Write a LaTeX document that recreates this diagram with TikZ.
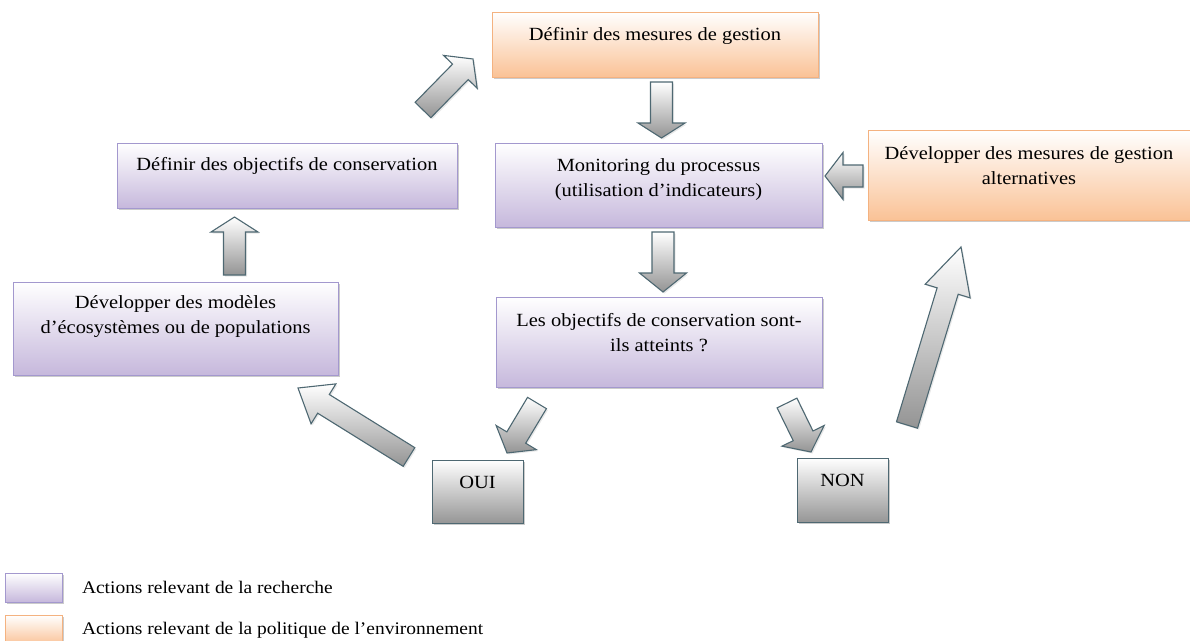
\documentclass[tikz,border=0pt]{standalone}
\usepackage{fontspec}
\setmainfont{Liberation Serif}[FakeStretch=1.1]
\usetikzlibrary{calc,shadows,shadings}

\definecolor{lila}{RGB}{198,184,220}
\definecolor{lilaline}{RGB}{163,152,206}
\definecolor{abricot}{RGB}{250,194,150}
\definecolor{abricotline}{RGB}{244,178,128}
\definecolor{gris}{RGB}{150,150,150}
\definecolor{grisline}{RGB}{78,104,114}

% block arrow: [head length]{tail}{tip}
\def\shaftw{11pt}
\def\headw{23.5pt}
\newcommand{\fatarrow}[3][16]{%
  \draw [blockarrow] let \p1=($(#3)-(#2)$), \n1={atan2(\y1,\x1)},
      \n2={veclen(\x1,\y1)-#1pt} in
    ($(#2)+(\n1+90:\shaftw)$) -- ($(#2)+(\n1:\n2)+(\n1+90:\shaftw)$)
    -- ($(#2)+(\n1:\n2)+(\n1+90:\headw)$) -- (#3)
    -- ($(#2)+(\n1:\n2)+(\n1-90:\headw)$) -- ($(#2)+(\n1:\n2)+(\n1-90:\shaftw)$)
    -- ($(#2)+(\n1-90:\shaftw)$) -- cycle;}

\begin{document}
\begin{tikzpicture}[x=1pt, y=-1pt, font=\fontsize{18.6}{25}\selectfont]
\tikzset{ inner sep=0pt, outer sep=0pt,
  box/.style={anchor=north, align=center, line width=1pt,
    drop shadow={shadow xshift=2pt, shadow yshift=-2pt, fill=black!45, opacity=.45}},
  recherche/.style={box, draw=lilaline, top color=white, bottom color=lila},
  politique/.style={box, draw=abricotline, top color=white, bottom color=abricot},
  reponse/.style={box, draw=grisline, top color=white, bottom color=gris},
  blockarrow/.style={draw=grisline, line width=1.1pt, top color=white, bottom color=black!42,
    drop shadow={shadow xshift=1.5pt, shadow yshift=-1.5pt, fill=black!30, opacity=.3}},
}

\useasboundingbox (0,0) rectangle (1190,640);

%\draw [lightgray, dashed](0,0) grid[step=50] (1190,640);

\node [politique, minimum width=326pt, text height=28pt, text depth=37pt] (Mes) at (655,12)
  {Définir des mesures de gestion};
\node [recherche, minimum width=327pt, text height=53pt, text depth=31pt] (Mon) at (658.5,143)
  {Monitoring du processus\\(utilisation d’indicateurs)};
\node [recherche, minimum width=340pt, text height=27pt, text depth=38pt] (Obj) at (287,143)
  {Définir des objectifs de conservation};
\node [recherche, minimum width=325pt, text height=51pt, text depth=42pt] (Mod) at (175.5,282)
  {Développer des modèles\\d’écosystèmes ou de populations};
\node [recherche, minimum width=326pt, text height=54pt, text depth=36pt] (Att) at (659,297)
  {Les objectifs de conservation sont-\\ils atteints~?};
\node [politique, minimum width=322pt, text height=54pt, text depth=36pt] (Alt) at (1029,130)
  {Développer des mesures de gestion\\alternatives};
\node [reponse, minimum width=91pt, text height=28pt, text depth=35pt] (Oui) at (477.5,460) {OUI};
\node [reponse, minimum width=91pt, text height=28pt, text depth=36pt] (Non) at (842.5,458) {NON};

% arrow ends
\coordinate (a1) at (423,110);   \coordinate (b1) at (473,59);
\coordinate (a2) at (661.5,82);  \coordinate (b2) at (661.5,138);
\coordinate (a3) at (863,176);   \coordinate (b3) at (825,176);
\coordinate (a4) at (663,232);   \coordinate (b4) at (663,292);
\coordinate (a5) at (234.5,275); \coordinate (b5) at (234.5,217);
\coordinate (a6) at (537,403);   \coordinate (b6) at (507,453);
\coordinate (a7) at (787,403);   \coordinate (b7) at (811,452);
\coordinate (a8) at (409,457);   \coordinate (b8) at (298,388);
\coordinate (a9) at (907,425);   \coordinate (b9) at (961,247);

\fatarrow[18]{a1}{b1}
\fatarrow[15]{a2}{b2}
\fatarrow[18]{a3}{b3}
\fatarrow[19]{a4}{b4}
\fatarrow[15]{a5}{b5}
\fatarrow[18]{a6}{b6}
\fatarrow[18]{a7}{b7}
\fatarrow[30]{a8}{b8}
\fatarrow[46]{a9}{b9}

% legend
\node [recherche, anchor=north west, minimum width=57pt, minimum height=29pt] (L1) at (5,573) {};
\node [politique, anchor=north west, minimum width=57pt, minimum height=30pt] (L2) at (5,615) {};
\node [anchor=base west, font=\fontsize{17.7}{21}\selectfont] (T1) at (82,593)
  {Actions relevant de la recherche};
\node [anchor=base west, font=\fontsize{17.7}{21}\selectfont] (T2) at (82,634)
  {Actions relevant de la politique de l’environnement};

\end{tikzpicture}
\end{document}
